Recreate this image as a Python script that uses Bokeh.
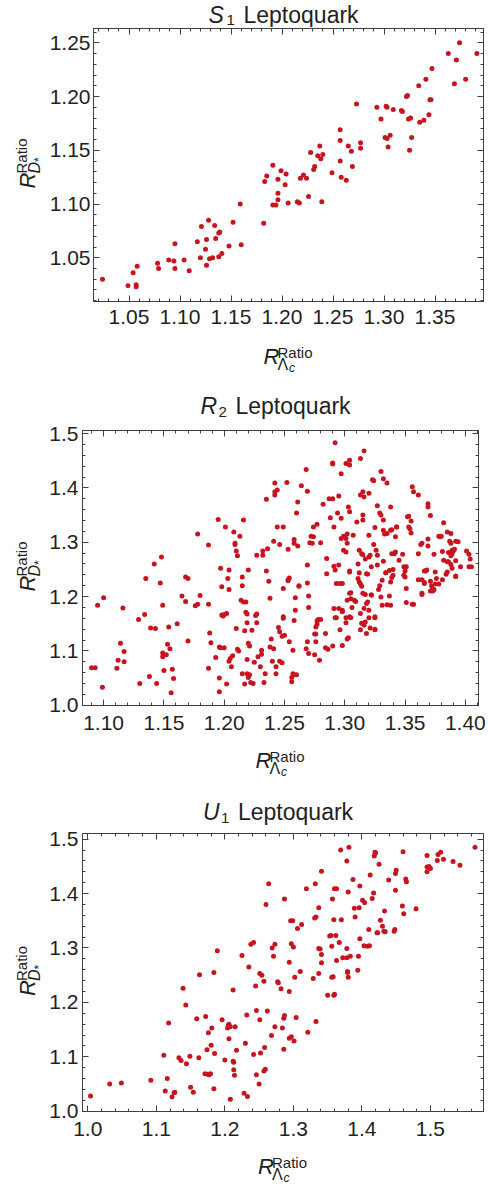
import math
from bokeh.plotting import figure
from bokeh.layouts import column, row
from bokeh.models import (Range1d, LinearAxis, SingleIntervalTicker, PrintfTickFormatter,
                          CustomJSTickFormatter, Label)
from bokeh.embed import file_html
from bokeh.resources import INLINE

FONT = "Liberation Sans"
RED = "#c8141e"
FRAME = "#404040"
TXT = "#231f20"

# ---------------- S1 leptoquark ----------------
s1_x = [1.024, 1.049, 1.054, 1.058, 1.057, 1.057, 1.078, 1.079, 1.089, 1.094,
        1.095, 1.095, 1.104, 1.109, 1.117, 1.120, 1.121, 1.125, 1.126, 1.126,
        1.128, 1.129, 1.132, 1.134, 1.135, 1.138, 1.139, 1.138, 1.141, 1.148,
        1.152, 1.159, 1.160, 1.182, 1.183, 1.185, 1.191, 1.191, 1.194, 1.196,
        1.196, 1.196, 1.199, 1.204, 1.203, 1.206, 1.215, 1.217, 1.218, 1.221,
        1.224, 1.226, 1.228, 1.231, 1.232, 1.235, 1.237, 1.238, 1.240, 1.239,
        1.249, 1.257, 1.257, 1.257, 1.258, 1.263, 1.265, 1.268, 1.269, 1.273,
        1.277, 1.277, 1.293, 1.297, 1.301, 1.302, 1.303, 1.303, 1.304, 1.306,
        1.309, 1.317, 1.318, 1.322, 1.323, 1.324, 1.326, 1.327, 1.325, 1.334,
        1.335, 1.339, 1.341, 1.344, 1.345, 1.346, 1.347, 1.363, 1.369, 1.371,
        1.374, 1.380, 1.391]
s1_y = [1.030, 1.024, 1.036, 1.042, 1.023, 1.025, 1.045, 1.040, 1.048, 1.047,
        1.063, 1.040, 1.048, 1.038, 1.065, 1.050, 1.079, 1.058, 1.067, 1.043,
        1.085, 1.049, 1.050, 1.080, 1.068, 1.073, 1.074, 1.051, 1.054, 1.061,
        1.083, 1.100, 1.062, 1.082, 1.121, 1.126, 1.136, 1.099, 1.099, 1.123,
        1.110, 1.104, 1.131, 1.128, 1.118, 1.101, 1.102, 1.101, 1.124, 1.127,
        1.124, 1.107, 1.148, 1.132, 1.135, 1.145, 1.154, 1.142, 1.146, 1.102,
        1.129, 1.169, 1.159, 1.140, 1.125, 1.122, 1.154, 1.149, 1.135, 1.193,
        1.157, 1.152, 1.190, 1.179, 1.162, 1.191, 1.190, 1.161, 1.153, 1.164,
        1.188, 1.187, 1.186, 1.200, 1.201, 1.179, 1.180, 1.162, 1.150, 1.210,
        1.176, 1.178, 1.216, 1.183, 1.197, 1.197, 1.226, 1.240, 1.212, 1.234,
        1.250, 1.216, 1.240]

# ---------------- R2 leptoquark ----------------
r2_x = [1.090, 1.093, 1.095, 1.099, 1.100, 1.111, 1.112, 1.114, 1.116, 1.117,
        1.117, 1.129, 1.130, 1.134, 1.135, 1.138, 1.139, 1.143, 1.142, 1.144,
        1.147, 1.148, 1.149, 1.149, 1.149, 1.150, 1.152, 1.153, 1.154, 1.155,
        1.156, 1.157, 1.158, 1.161, 1.165, 1.168, 1.168, 1.170, 1.170, 1.176,
        1.178, 1.178, 1.180, 1.187, 1.187, 1.187, 1.188, 1.189, 1.193, 1.195,
        1.196, 1.197, 1.196, 1.197, 1.196, 1.198, 1.198, 1.199, 1.200, 1.200,
        1.201, 1.202, 1.202, 1.203, 1.204, 1.204, 1.204, 1.205, 1.207, 1.206,
        1.208, 1.209, 1.209, 1.210, 1.211, 1.210, 1.211, 1.212, 1.213, 1.214,
        1.215, 1.215, 1.215, 1.216, 1.216, 1.217, 1.217, 1.218, 1.218, 1.219,
        1.219, 1.220, 1.219, 1.219, 1.220, 1.220, 1.221, 1.221, 1.222, 1.224,
        1.223, 1.225, 1.226, 1.227, 1.227, 1.227, 1.228, 1.230, 1.231, 1.231,
        1.232, 1.232, 1.233, 1.234, 1.235, 1.235, 1.236, 1.237, 1.238, 1.238,
        1.239, 1.240, 1.241, 1.241, 1.242, 1.242, 1.242, 1.243, 1.243, 1.244,
        1.244, 1.245, 1.246, 1.246, 1.248, 1.246, 1.248, 1.249, 1.249, 1.249,
        1.249, 1.250, 1.252, 1.253, 1.254, 1.253, 1.254, 1.256, 1.257, 1.258,
        1.260, 1.256, 1.257, 1.258, 1.258, 1.258, 1.259, 1.259, 1.260, 1.261,
        1.261, 1.262, 1.264, 1.268, 1.268, 1.269, 1.269, 1.269, 1.270, 1.270,
        1.269, 1.270, 1.271, 1.272, 1.274, 1.273, 1.274, 1.275, 1.275, 1.276,
        1.276, 1.277, 1.277, 1.277, 1.278, 1.280, 1.279, 1.280, 1.282, 1.284,
        1.284, 1.285, 1.285, 1.286, 1.287, 1.288, 1.290, 1.290, 1.290, 1.290,
        1.291, 1.291, 1.291, 1.292, 1.292, 1.293, 1.294, 1.295, 1.295, 1.295,
        1.296, 1.296, 1.297, 1.297, 1.297, 1.298, 1.298, 1.298, 1.298, 1.299,
        1.299, 1.301, 1.301, 1.301, 1.301, 1.301, 1.302, 1.302, 1.302, 1.303,
        1.303, 1.304, 1.304, 1.304, 1.304, 1.305, 1.304, 1.305, 1.306, 1.307,
        1.308, 1.310, 1.311, 1.311, 1.312, 1.312, 1.312, 1.313, 1.313, 1.313,
        1.313, 1.314, 1.315, 1.315, 1.315, 1.315, 1.315, 1.316, 1.316, 1.317,
        1.317, 1.318, 1.318, 1.319, 1.320, 1.320, 1.320, 1.320, 1.320, 1.321,
        1.322, 1.322, 1.323, 1.324, 1.324, 1.325, 1.325, 1.325, 1.326, 1.327,
        1.327, 1.327, 1.328, 1.329, 1.330, 1.330, 1.330, 1.331, 1.332, 1.332,
        1.332, 1.332, 1.334, 1.335, 1.335, 1.335, 1.337, 1.338, 1.338, 1.338,
        1.339, 1.338, 1.339, 1.340, 1.341, 1.342, 1.342, 1.343, 1.345, 1.348,
        1.349, 1.349, 1.350, 1.350, 1.351, 1.351, 1.352, 1.353, 1.353, 1.354,
        1.355, 1.356, 1.357, 1.357, 1.361, 1.361, 1.361, 1.363, 1.364, 1.364,
        1.366, 1.366, 1.367, 1.366, 1.368, 1.369, 1.369, 1.369, 1.371, 1.371,
        1.371, 1.373, 1.374, 1.374, 1.375, 1.376, 1.378, 1.379, 1.378, 1.380,
        1.381, 1.381, 1.382, 1.382, 1.384, 1.385, 1.385, 1.386, 1.386, 1.387,
        1.388, 1.388, 1.388, 1.389, 1.389, 1.390, 1.391, 1.392, 1.392, 1.396,
        1.401, 1.403, 1.404, 1.403, 1.405, 1.392, 1.389, 1.388, 1.316, 1.355,
        1.333, 1.339, 1.343, 1.364, 1.369, 1.394, 1.385, 1.375, 1.337, 1.318,
        1.304, 1.292, 1.334, 1.340, 1.351, 1.372, 1.392, 1.373, 1.364, 1.253,
        1.262, 1.314, 1.329, 1.305, 1.317, 1.322, 1.309, 1.319, 1.331, 1.356,
        1.293, 1.304, 1.313, 1.314, 1.316, 1.325, 1.321, 1.325, 1.302, 1.276]
r2_y = [1.069, 1.069, 1.184, 1.033, 1.198, 1.068, 1.083, 1.114, 1.179, 1.099,
        1.080, 1.158, 1.040, 1.167, 1.233, 1.053, 1.142, 1.141, 1.260, 1.040,
        1.225, 1.273, 1.184, 1.096, 1.089, 1.064, 1.093, 1.112, 1.144, 1.104,
        1.023, 1.066, 1.049, 1.150, 1.201, 1.191, 1.236, 1.233, 1.118, 1.183,
        1.186, 1.315, 1.202, 1.295, 1.186, 1.068, 1.133, 1.115, 1.088, 1.342,
        1.107, 1.106, 1.025, 1.252, 1.050, 1.218, 1.166, 1.164, 1.167, 1.106,
        1.328, 1.169, 1.039, 1.233, 1.249, 1.213, 1.081, 1.086, 1.091, 1.071,
        1.319, 1.298, 1.296, 1.284, 1.275, 1.141, 1.103, 1.100, 1.311, 1.193,
        1.058, 1.236, 1.220, 1.341, 1.190, 1.137, 1.039, 1.190, 1.171, 1.168,
        1.058, 1.051, 1.152, 1.084, 1.249, 1.114, 1.109, 1.056, 1.042, 1.040,
        1.138, 1.079, 1.165, 1.168, 1.152, 1.276, 1.089, 1.071, 1.094, 1.101,
        1.284, 1.276, 1.042, 1.058, 1.247, 1.379, 1.288, 1.228, 1.197, 1.107,
        1.122, 1.081, 1.104, 1.302, 1.387, 1.393, 1.409, 1.071, 1.058, 1.328,
        1.396, 1.143, 1.296, 1.135, 1.078, 1.081, 1.127, 1.163, 1.160, 1.215,
        1.328, 1.129, 1.410, 1.231, 1.234, 1.287, 1.117, 1.051, 1.058, 1.056,
        1.056, 1.043, 1.101, 1.305, 1.298, 1.156, 1.198, 1.175, 1.354, 1.374,
        1.293, 1.219, 1.404, 1.434, 1.104, 1.258, 1.225, 1.394, 1.180, 1.201,
        1.117, 1.095, 1.299, 1.311, 1.310, 1.298, 1.328, 1.093, 1.131, 1.117,
        1.144, 1.149, 1.333, 1.155, 1.158, 1.158, 1.083, 1.299, 1.370, 1.132,
        1.106, 1.270, 1.242, 1.103, 1.380, 1.345, 1.446, 1.444, 1.109, 1.380,
        1.328, 1.178, 1.256, 1.483, 1.161, 1.224, 1.354, 1.385, 1.258, 1.178,
        1.139, 1.224, 1.344, 1.426, 1.307, 1.110, 1.175, 1.172, 1.224, 1.285,
        1.311, 1.445, 1.307, 1.282, 1.161, 1.152, 1.193, 1.298, 1.315, 1.124,
        1.365, 1.356, 1.442, 1.451, 1.206, 1.196, 1.245, 1.161, 1.180, 1.313,
        1.193, 1.337, 1.233, 1.260, 1.244, 1.285, 1.227, 1.223, 1.387, 1.139,
        1.454, 1.279, 1.277, 1.350, 1.341, 1.393, 1.206, 1.468, 1.178, 1.269,
        1.153, 1.132, 1.187, 1.241, 1.313, 1.390, 1.273, 1.175, 1.161, 1.276,
        1.203, 1.255, 1.415, 1.413, 1.296, 1.161, 1.139, 1.327, 1.285, 1.367,
        1.276, 1.258, 1.213, 1.354, 1.350, 1.430, 1.199, 1.230, 1.417, 1.265,
        1.341, 1.322, 1.244, 1.409, 1.185, 1.316, 1.201, 1.365, 1.322, 1.227,
        1.235, 1.184, 1.279, 1.250, 1.279, 1.282, 1.310, 1.328, 1.267, 1.278,
        1.255, 1.239, 1.247, 1.236, 1.215, 1.189, 1.347, 1.348, 1.328, 1.325,
        1.317, 1.402, 1.393, 1.186, 1.387, 1.231, 1.279, 1.296, 1.206, 1.231,
        1.226, 1.247, 1.247, 1.224, 1.249, 1.365, 1.371, 1.293, 1.349, 1.228,
        1.210, 1.210, 1.213, 1.278, 1.223, 1.233, 1.311, 1.310, 1.223, 1.311,
        1.283, 1.231, 1.267, 1.336, 1.241, 1.245, 1.319, 1.281, 1.264, 1.302,
        1.298, 1.259, 1.316, 1.285, 1.279, 1.284, 1.287, 1.238, 1.302, 1.255,
        1.284, 1.278, 1.269, 1.255, 1.255, 1.266, 1.252, 1.275, 1.383, 1.339,
        1.315, 1.323, 1.328, 1.298, 1.306, 1.301, 1.264, 1.245, 1.248, 1.242,
        1.247, 1.249, 1.244, 1.239, 1.255, 1.220, 1.237, 1.214, 1.204, 1.229,
        1.220, 1.219, 1.220, 1.207, 1.204, 1.203, 1.191, 1.190, 1.184, 1.186,
        1.161, 1.163, 1.169, 1.151, 1.147, 1.163, 1.142, 1.140, 1.122, 1.131]

# ---------------- U1 leptoquark ----------------
u1_x = [1.004, 1.032, 1.049, 1.092, 1.111, 1.113, 1.116, 1.118, 1.123, 1.126,
        1.127, 1.133, 1.136, 1.139, 1.143, 1.144, 1.149, 1.150, 1.154, 1.159,
        1.162, 1.163, 1.171, 1.172, 1.174, 1.175, 1.176, 1.177, 1.179, 1.180,
        1.181, 1.184, 1.184, 1.185, 1.189, 1.196, 1.200, 1.204, 1.205, 1.206,
        1.206, 1.208, 1.212, 1.212, 1.213, 1.213, 1.214, 1.215, 1.217, 1.208,
        1.225, 1.228, 1.230, 1.232, 1.233, 1.235, 1.238, 1.242, 1.242, 1.245,
        1.246, 1.246, 1.250, 1.251, 1.251, 1.252, 1.254, 1.257, 1.257, 1.258,
        1.259, 1.260, 1.262, 1.264, 1.268, 1.269, 1.271, 1.273, 1.273, 1.277,
        1.278, 1.282, 1.284, 1.286, 1.286, 1.287, 1.287, 1.294, 1.294, 1.294,
        1.296, 1.299, 1.297, 1.297, 1.300, 1.301, 1.302, 1.304, 1.306, 1.310,
        1.312, 1.319, 1.321, 1.329, 1.332, 1.331, 1.333, 1.333, 1.337, 1.337,
        1.339, 1.337, 1.341, 1.341, 1.341, 1.350, 1.353, 1.355, 1.356, 1.356,
        1.357, 1.358, 1.359, 1.360, 1.359, 1.360, 1.362, 1.363, 1.363, 1.367,
        1.370, 1.372, 1.378, 1.379, 1.379, 1.380, 1.378, 1.378, 1.380, 1.383,
        1.381, 1.369, 1.387, 1.389, 1.390, 1.394, 1.395, 1.396, 1.397, 1.397,
        1.401, 1.404, 1.403, 1.408, 1.410, 1.411, 1.412, 1.415, 1.417, 1.418,
        1.419, 1.420, 1.422, 1.423, 1.425, 1.427, 1.430, 1.432, 1.433, 1.434,
        1.439, 1.447, 1.448, 1.449, 1.450, 1.449, 1.459, 1.460, 1.461, 1.464,
        1.465, 1.479, 1.495, 1.495, 1.495, 1.500, 1.498, 1.510, 1.511, 1.515,
        1.519, 1.533, 1.543, 1.565]
u1_y = [1.028, 1.050, 1.052, 1.057, 1.103, 1.037, 1.060, 1.162, 1.026, 1.034,
        1.035, 1.098, 1.093, 1.226, 1.195, 1.087, 1.101, 1.044, 1.035, 1.170,
        1.098, 1.251, 1.069, 1.174, 1.113, 1.068, 1.144, 1.067, 1.069, 1.121,
        1.153, 1.255, 1.041, 1.106, 1.295, 1.168, 1.094, 1.153, 1.158, 1.160,
        1.133, 1.155, 1.223, 1.092, 1.090, 1.076, 1.066, 1.155, 1.112, 1.022,
        1.286, 1.033, 1.125, 1.177, 1.027, 1.265, 1.307, 1.310, 1.104, 1.230,
        1.185, 1.067, 1.050, 1.253, 1.168, 1.107, 1.250, 1.239, 1.074, 1.117,
        1.077, 1.380, 1.184, 1.418, 1.139, 1.300, 1.285, 1.307, 1.155, 1.238,
        1.236, 1.225, 1.153, 1.114, 1.171, 1.176, 1.390, 1.274, 1.220, 1.134,
        1.350, 1.350, 1.308, 1.137, 1.302, 1.129, 1.246, 1.172, 1.336, 1.257,
        1.343, 1.409, 1.145, 1.244, 1.418, 1.355, 1.357, 1.165, 1.374, 1.299,
        1.298, 1.253, 1.288, 1.273, 1.441, 1.213, 1.322, 1.323, 1.246, 1.303,
        1.390, 1.247, 1.213, 1.215, 1.352, 1.409, 1.323, 1.409, 1.277, 1.310,
        1.352, 1.282, 1.282, 1.257, 1.255, 1.246, 1.299, 1.460, 1.403, 1.285,
        1.485, 1.480, 1.426, 1.373, 1.357, 1.259, 1.285, 1.374, 1.414, 1.317,
        1.388, 1.383, 1.304, 1.303, 1.334, 1.304, 1.434, 1.391, 1.401, 1.469,
        1.476, 1.475, 1.328, 1.328, 1.454, 1.351, 1.340, 1.331, 1.368, 1.330,
        1.425, 1.331, 1.334, 1.437, 1.443, 1.406, 1.377, 1.477, 1.363, 1.427,
        1.422, 1.372, 1.440, 1.470, 1.449, 1.446, 1.450, 1.461, 1.472, 1.476,
        1.463, 1.459, 1.452, 1.485]

assert len(s1_x) == len(s1_y)
assert len(r2_x) == len(r2_y)
assert len(u1_x) == len(u1_y)

PAGE_W = 488
YLAB_W = 46
MID = 0.3465  # distance (in em) from the alphabetic baseline to the middle of the text box


def lab(f, x, y, s, size, italic=False, rotated=False):
    # (x, y) is the left end of the text baseline; Label is anchored at its middle
    if rotated:
        ax, ay, ang = x - MID * size, y, math.pi / 2
    else:
        ax, ay, ang = x, y + MID * size, 0.0
    f.add_layout(Label(x=ax, y=ay, text=s, angle=ang,
                       text_font=FONT, text_font_size=f"{size}px",
                       text_font_style="italic" if italic else "normal",
                       text_color=TXT, text_align="left", text_baseline="middle"))


def aux(w, h, top=0, bottom=0):
    f = figure(width=w, height=h, x_range=Range1d(0, w), y_range=Range1d(0, h - top - bottom),
               x_axis_location=None, y_axis_location=None, title_location=None,
               output_backend="svg", toolbar_location=None,
               min_border_left=0, min_border_right=0,
               min_border_top=top, min_border_bottom=bottom)
    f.outline_line_color = None
    f.grid.grid_line_color = None
    f.background_fill_color = "white"
    f.border_fill_color = "white"
    return f


def make_axis(interval, fmt, labeled, standoff):
    ax = LinearAxis(ticker=SingleIntervalTicker(interval=interval, num_minor_ticks=5),
                    formatter=PrintfTickFormatter(format=fmt) if labeled
                    else CustomJSTickFormatter(code="return ''"))
    ax.major_tick_in = 6
    ax.major_tick_out = 0
    ax.minor_tick_in = 3
    ax.minor_tick_out = 0
    ax.axis_line_color = FRAME
    ax.major_tick_line_color = FRAME
    ax.minor_tick_line_color = FRAME
    ax.major_label_text_font = FONT
    ax.major_label_text_color = TXT
    if labeled:
        ax.major_label_text_font_size = "21px"
        ax.major_label_standoff = standoff
    else:
        ax.major_label_text_font_size = "0px"
        ax.major_label_standoff = 0
    return ax


def make_main(xs, ys, xr, yr, xint, yint, xfmt, yfmt, width, height, borders, xstand, ystand):
    left, right, top, bottom = borders
    p = figure(width=width, height=height,
               x_range=Range1d(*xr), y_range=Range1d(*yr),
               x_axis_location=None, y_axis_location=None, title_location=None,
               output_backend="svg", toolbar_location=None,
               min_border_left=left, min_border_right=right,
               min_border_top=top, min_border_bottom=bottom)
    p.add_layout(make_axis(xint, xfmt, True, xstand), "below")
    p.add_layout(make_axis(yint, yfmt, True, ystand), "left")
    p.add_layout(make_axis(xint, xfmt, False, 0), "above")
    p.add_layout(make_axis(yint, yfmt, False, 0), "right")
    p.grid.grid_line_color = None
    p.outline_line_color = FRAME
    p.outline_line_width = 1
    p.background_fill_color = "white"
    p.border_fill_color = "white"
    p.scatter(xs, ys, size=5, fill_color=RED, line_color=None)
    return p


def make_title(h, cx, base, letter, sub):
    f = aux(PAGE_W, h)
    lab(f, cx - 80, base, letter, 23, italic=True)
    lab(f, cx - 62, base - 3, sub, 15)
    lab(f, cx - 45, base, "Leptoquark", 23)
    return f


def make_xlab(h, cx, rb):
    # rb: baseline (from bottom of strip) of the main letter R
    f = aux(PAGE_W, h)
    lab(f, cx - 25, rb, "R", 22, italic=True)
    lab(f, cx - 11, rb + 7, "Ratio", 15)
    lab(f, cx - 11, rb - 6, "\u039b", 16)
    lab(f, cx + 0.5, rb - 8, "c", 12, italic=True)
    return f


def make_ylab(h, top, bottom):
    # strip shares its top/bottom borders with the plot next to it,
    # so its frame coincides vertically with the plot frame
    f = aux(YLAB_W, h, top, bottom)
    cy = (h - top - bottom) / 2.0
    lab(f, 35, cy - 23.5, "R", 22, italic=True, rotated=True)
    lab(f, 26.5, cy - 8.5, "Ratio", 15, rotated=True)
    lab(f, 40, cy - 8.5, "D", 16, italic=True, rotated=True)
    lab(f, 43, cy + 3, "*", 12, rotated=True)
    return f


MAIN_W = PAGE_W - YLAB_W

# ---- panel 1 ----  (page rows 0..380)
t1 = make_title(27, 288, 5, "S", "1")
m1 = make_main(s1_x, s1_y, (1.0152, 1.3975), (1.0093, 1.2633), 0.05, 0.05, "%.2f", "%.2f",
               MAIN_W, 310, (47, 5, 1, 36), 8, 3)
y1 = make_ylab(310, 1, 36)
x1 = make_xlab(43, 288, 16)

# ---- panel 2 ----  (page rows 380..785)
t2 = make_title(39, 280, 5.7, "R", "2")
m2 = make_main(r2_x, r2_y, (1.0825, 1.4109), (0.9995, 1.5056), 0.05, 0.1, "%.2f", "%.1f",
               MAIN_W, 322, (36, 10, 11, 36), 10, 4)
y2 = make_ylab(322, 11, 36)
x2 = make_xlab(44, 280, 17)

# ---- panel 3 ----  (page rows 785..1185)
t3 = make_title(40, 282.5, 5.7, "U", "1")
m3 = make_main(u1_x, u1_y, (0.9923, 1.5774), (0.9994, 1.5105), 0.1, 0.1, "%.1f", "%.1f",
               MAIN_W, 322, (36, 5, 8, 36), 10, 4)
y3 = make_ylab(322, 8, 36)
x3 = make_xlab(38, 282.5, 11)

layout = column(t1, row(y1, m1), x1,
                t2, row(y2, m2), x2,
                t3, row(y3, m3), x3)
open("out.html", "w").write(file_html(layout, INLINE))
